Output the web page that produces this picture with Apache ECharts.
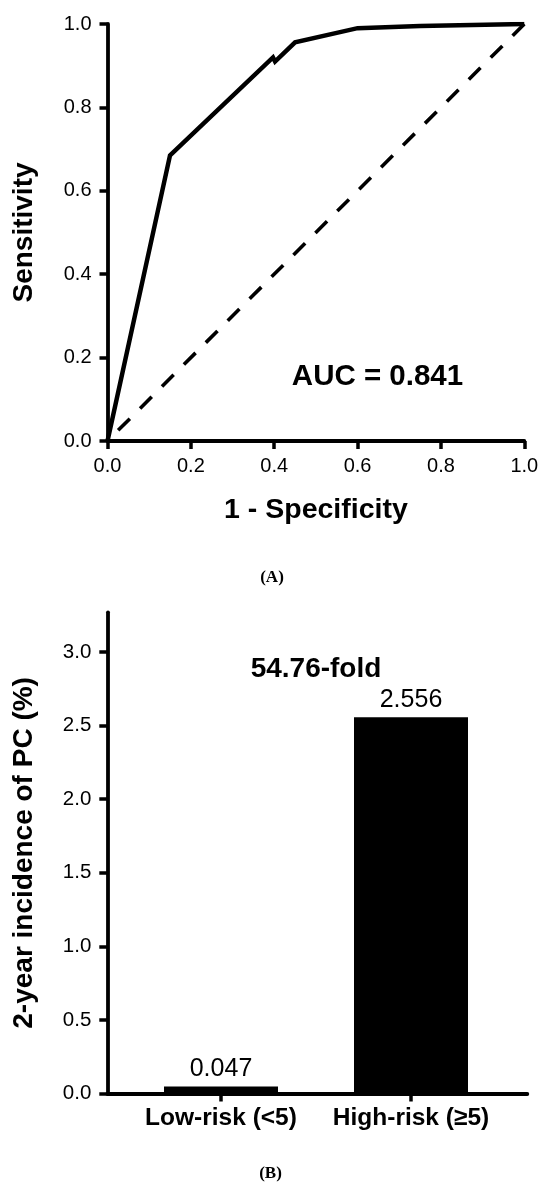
<!DOCTYPE html>
<html>
<head>
<meta charset="utf-8">
<script src="https://cdn.jsdelivr.net/npm/echarts@6/dist/echarts.min.js"></script>
<style>
html,body{margin:0;padding:0;background:#fff;}
#c{width:550px;height:1191px;}
</style>
</head>
<body>
<div id="c"></div>
<script>
// ---- Panel A: ROC curve ----
const rocFpr = [0, 0.15, 0.397, 0.402, 0.45, 0.60, 0.75, 1.0];
const rocTpr = [0, 0.685, 0.920, 0.910, 0.956, 0.990, 0.995, 1.0];
const refFpr = [1.0, 0.0];
const refTpr = [1.0, 0.0];
const aucText = 'AUC = 0.841';
const rocXName = '1 - Specificity';
const rocYName = 'Sensitivity';

// ---- Panel B: incidence bars ----
const riskCategories = ['Low-risk (<5)', 'High-risk (\u22655)'];
const incidenceValues = [0.047, 2.556];
const incidenceTicks = [0, 0.5, 1.0, 1.5, 2.0, 2.5, 3.0];
const incidenceYName = '2-year incidence of PC (%)';
const foldText = '54.76-fold';
const panelLabels = ['(A)', '(B)'];

const FONT = '"Liberation Sans", Arial, Helvetica, sans-serif';
const W = 550, H = 1191;

// layout
const gA = {left: 107.5, right: W - 524.3, top: 24, bottom: H - 441};
const gB = {left: 107.3, right: W - 527.3, top: 612.3, bottom: H - 1093.5};
const gBc = {left: 126, right: W - 506, top: 612.3, bottom: H - 1093.5};
const yMaxB = 3.27;

const axisLineStyle = {color: '#000', width: 3.8};
const tickStyle = {color: '#000', width: 3.5};
const tickLabelA = {color: '#000', fontFamily: FONT, fontSize: 20};
const tickLabelB = {color: '#000', fontFamily: FONT, fontSize: 20.5};
const fmt1 = v => Number(v).toFixed(1);

const chart = echarts.init(document.getElementById('c'), null, {renderer: 'canvas', width: W, height: H});

const rocData = rocFpr.map((x, i) => [x, rocTpr[i]]);
const refData = refFpr.map((x, i) => [x, refTpr[i]]);

const option = {
  backgroundColor: '#fff',
  animation: false,
  grid: [
    Object.assign({containLabel: false}, gA),
    Object.assign({containLabel: false}, gB),
    Object.assign({containLabel: false}, gBc)
  ],
  xAxis: [
    {
      gridIndex: 0, type: 'value', min: 0, max: 1, interval: 0.2,
      name: rocXName, nameLocation: 'middle', nameGap: 55,
      nameTextStyle: {color: '#000', fontFamily: FONT, fontSize: 28.5, fontWeight: 'bold'},
      axisLine: {show: true, lineStyle: axisLineStyle},
      axisTick: {show: true, inside: false, length: 8, lineStyle: tickStyle},
      axisLabel: Object.assign({margin: 15, formatter: fmt1}, tickLabelA),
      splitLine: {show: false}
    },
    {
      gridIndex: 1, type: 'value', min: 0, max: 1,
      axisLine: {show: true, onZero: false, lineStyle: axisLineStyle},
      axisTick: {show: false}, axisLabel: {show: false}, splitLine: {show: false}
    },
    {
      gridIndex: 2, type: 'category', data: riskCategories, boundaryGap: true,
      axisLine: {show: false},
      axisTick: {show: true, alignWithLabel: true, length: 8, lineStyle: tickStyle},
      axisLabel: {margin: 12, color: '#000', fontFamily: FONT, fontSize: 24.5, fontWeight: 'bold', interval: 0},
      splitLine: {show: false}
    }
  ],
  yAxis: [
    {
      gridIndex: 0, type: 'value', min: 0, max: 1, interval: 0.2,
      name: rocYName, nameLocation: 'middle', nameGap: 69,
      nameTextStyle: {color: '#000', fontFamily: FONT, fontSize: 28, fontWeight: 'bold'},
      axisLine: {show: true, lineStyle: axisLineStyle},
      axisTick: {show: true, inside: false, length: 8, lineStyle: tickStyle},
      axisLabel: Object.assign({margin: 16, formatter: fmt1}, tickLabelA),
      splitLine: {show: false}
    },
    {
      gridIndex: 1, type: 'value', min: 0, max: yMaxB,
      name: incidenceYName, nameLocation: 'middle', nameGap: 69,
      nameTextStyle: {color: '#000', fontFamily: FONT, fontSize: 28, fontWeight: 'bold'},
      axisLine: {show: true, lineStyle: axisLineStyle},
      axisTick: {show: true, inside: false, length: 8, lineStyle: tickStyle, customValues: incidenceTicks},
      axisLabel: Object.assign({margin: 16, formatter: fmt1, customValues: incidenceTicks}, tickLabelB),
      splitLine: {show: false}
    },
    {
      gridIndex: 2, type: 'value', min: 0, max: yMaxB, show: false
    }
  ],
  series: [
    {
      type: 'line', xAxisIndex: 0, yAxisIndex: 0, data: refData,
      showSymbol: false, symbol: 'none', silent: true,
      lineStyle: {color: '#000', width: 3.6, type: [16.5, 14.5]}, z: 2
    },
    {
      type: 'line', xAxisIndex: 0, yAxisIndex: 0, data: rocData,
      showSymbol: false, symbol: 'none', silent: true,
      lineStyle: {color: '#000', width: 4.5, join: 'miter'}, z: 3
    },
    {
      type: 'bar', xAxisIndex: 2, yAxisIndex: 2, data: incidenceValues,
      barWidth: '60%', itemStyle: {color: '#000'},
      label: {show: true, position: 'top', distance: 5, color: '#000', fontFamily: FONT, fontSize: 25,
        formatter: p => String(incidenceValues[p.dataIndex])},
      z: 3
    }
  ],
  graphic: [
    {type: 'text', x: 377.5, y: 377, z: 10,
      style: {text: aucText, font: 'bold 29.5px ' + FONT, fill: '#000', align: 'center', verticalAlign: 'middle', textAlign: 'center', textVerticalAlign: 'middle'}},
    {type: 'text', x: 316, y: 669, z: 10,
      style: {text: foldText, font: 'bold 28px ' + FONT, fill: '#000', align: 'center', verticalAlign: 'middle', textAlign: 'center', textVerticalAlign: 'middle'}},
    {type: 'text', x: 272, y: 578, z: 10,
      style: {text: panelLabels[0], font: 'bold 17px "Liberation Serif", "Times New Roman", serif', fill: '#000', align: 'center', verticalAlign: 'middle', textAlign: 'center', textVerticalAlign: 'middle'}},
    {type: 'text', x: 270.5, y: 1174, z: 10,
      style: {text: panelLabels[1], font: 'bold 17px "Liberation Serif", "Times New Roman", serif', fill: '#000', align: 'center', verticalAlign: 'middle', textAlign: 'center', textVerticalAlign: 'middle'}}
  ]
};
chart.setOption(option);
</script>
</body>
</html>
